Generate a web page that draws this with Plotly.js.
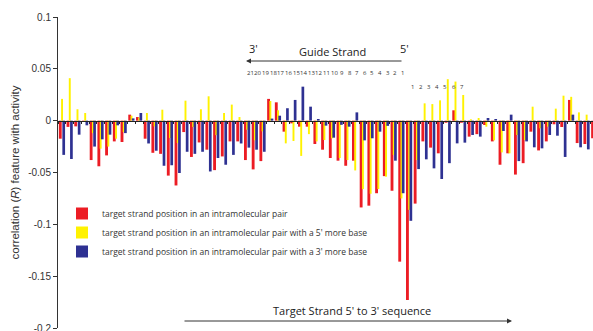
<!DOCTYPE html>
<html>
<head>
<meta charset="utf-8">
<script src="https://cdn.plot.ly/plotly-3.0.1.min.js"></script>
<style>html,body{margin:0;padding:0;background:#fff;}#chart{width:593px;height:331px;}</style>
</head>
<body>
<div id="chart"></div>
<script>
// ---- data ----
var positions = [];
for (var i = 1; i <= 70; i++) positions.push(i);

var redPair = [
 -0.0174,-0.006,-0.0055,-0.001,-0.038,-0.044,-0.0335,-0.020,-0.0206,0.0058,
 0.0035,-0.0174,-0.031,-0.032,-0.053,-0.0625,-0.011,-0.035,-0.021,-0.028,
 -0.0477,-0.0345,-0.020,-0.020,-0.038,-0.047,-0.039,0.021,0.0177,-0.0106,
 -0.0026,-0.0058,-0.0058,-0.0225,-0.028,-0.036,-0.0386,-0.0435,-0.0386,-0.0837,
 -0.082,-0.070,-0.0535,-0.0676,-0.136,-0.173,-0.080,-0.020,-0.026,-0.0315,
 -0.002,0.010,-0.002,-0.0154,-0.013,-0.0042,-0.020,-0.0425,-0.0315,-0.052,
 -0.041,-0.0106,-0.0287,-0.020,-0.0035,-0.0061,0.020,-0.0216,-0.0225,-0.017
];
var yellow5 = [
 0.021,0.041,0.011,0.0074,-0.012,-0.027,-0.025,-0.0174,-0.011,0.0048,
 0.003,0.0074,-0.0055,0.0106,-0.0167,-0.0216,0.0193,-0.006,0.011,0.0235,
 -0.014,0.0074,0.0155,0.0035,-0.0087,-0.019,-0.0103,0.019,0.010,-0.0219,
 -0.0196,-0.034,-0.013,-0.020,-0.0187,-0.017,-0.036,-0.038,-0.048,-0.066,
 -0.0705,-0.066,-0.054,-0.033,-0.075,-0.086,-0.038,0.0167,0.016,0.0196,
 0.040,0.0377,0.0248,0.0013,0.0026,-0.0058,-0.019,-0.0306,-0.0315,-0.0138,
 -0.0187,0.0135,-0.0074,-0.0058,0.0116,0.0241,0.023,0.008,0.0058,0
];
var blue3 = [
 -0.033,-0.037,-0.0135,-0.0045,-0.025,-0.018,-0.0135,-0.0045,-0.012,0.0022,
 0.0074,-0.022,-0.029,-0.0435,-0.043,-0.0505,-0.030,-0.032,-0.030,-0.049,
 -0.036,-0.0425,-0.033,-0.022,-0.026,-0.028,-0.030,0.002,0.0048,0.012,
 0.020,0.0328,0.0135,0.0016,-0.0048,-0.0164,-0.004,-0.0058,0.008,-0.019,
 -0.017,-0.0106,-0.005,-0.0386,-0.070,-0.0966,-0.0467,-0.0373,-0.046,-0.0563,
 -0.041,-0.0219,-0.0212,-0.0138,-0.0154,0.0026,0.0016,-0.010,0.0058,-0.039,
 -0.020,-0.0257,-0.0267,-0.0138,-0.0145,-0.035,0.0058,-0.0257,-0.0277,0
];
var seriesNames = [
 "target strand position in an intramolecular pair",
 "target strand position in an intramolecular pair with a 5' more base",
 "target strand position in an intramolecular pair with a 3' more base"
];
var guideLabels = ["21","20","19","18","17","16","15","14","13","12","11","10","9","8","7","6","5","4","3","2","1"];
var targetLabels = ["1","2","3","4","5","6","7"];
var yTickVals = [0.1,0.05,0,-0.05,-0.1,-0.15,-0.2];
var yTickText = ["0.1","0.05","0","-0.05","-0.1","-0.15","-0.2"];

// ---- layout helpers ----
var L = 58, T = 17, W = 535, H = 311;
function px(x){ return (x - L) / W; }
function py(y){ return (T + H - y) / H; }

var RED = '#ec1c24', YEL = '#fff200', BLU = '#2e3192';
var traces = [
 {type:'bar', x:positions, y:redPair, name:seriesNames[0], marker:{color:RED}, width:0.37, offset:-0.41},
 {type:'bar', x:positions, y:yellow5, name:seriesNames[1], marker:{color:YEL}, width:0.25, offset:-0.12},
 {type:'bar', x:positions, y:blue3, name:seriesNames[2], marker:{color:BLU}, width:0.35, offset:0.045}
];

var ann = [];
var numFont = {family:'Open Sans, sans-serif', size:6, color:'#333'};
guideLabels.forEach(function(t, i){
  ann.push({xref:'x', yref:'paper', x:25.4 + i*0.99, y:py(72.5), text:t, showarrow:false, font:numFont, xanchor:'center', yanchor:'middle'});
});
targetLabels.forEach(function(t, i){
  ann.push({xref:'x', yref:'paper', x:46.4 + i*1.07, y:py(87), text:t, showarrow:false, font:numFont, xanchor:'center', yanchor:'middle'});
});
var lblFont = {family:'Open Sans, sans-serif', size:11, color:'#222'};
function txt(x, y, t){
  return {xref:'paper', yref:'paper', x:px(x), y:py(y), text:t, showarrow:false, font:lblFont, xanchor:'center', yanchor:'middle'};
}
ann.push(txt(253, 49, "3'"));
ann.push(txt(404, 48.5, "5'"));
ann.push(txt(333, 52, "Guide Strand"));
ann.push({xref:'paper', yref:'paper', x:px(246), y:py(61), ax:157, ay:0, text:'', showarrow:true, arrowhead:2, arrowsize:1, arrowwidth:1, arrowcolor:'#333'});
ann.push(txt(352, 310, "Target Strand 5' to 3' sequence"));
ann.push({xref:'paper', yref:'paper', x:px(512), y:py(321), ax:-329, ay:0, text:'', showarrow:true, arrowhead:2, arrowsize:1, arrowwidth:1, arrowcolor:'#333'});

var layout = {
  width:593, height:331,
  margin:{l:L, r:0, t:T, b:3, pad:0},
  paper_bgcolor:'#fff', plot_bgcolor:'#fff',
  barmode:'overlay',
  showlegend:true,
  legend:{x:px(62), y:py(199), xanchor:'left', yanchor:'top', bgcolor:'rgba(0,0,0,0)',
          font:{family:'Open Sans, sans-serif', size:8.5, color:'#333'}, itemclick:false},
  xaxis:{range:[0.48, 69.83], showgrid:false, zeroline:false, showticklabels:false,
         showline:true, linecolor:'#222', linewidth:1.2, anchor:'free', position:2/3,
         ticks:'outside', ticklen:2, tickcolor:'#222', tickwidth:1, tick0:0.5, dtick:1},
  yaxis:{range:[-0.2, 0.1], showgrid:false, zeroline:false, showline:true, linecolor:'#333', linewidth:1,
         ticks:'outside', ticklen:4, tickcolor:'#333', tickvals:yTickVals, ticktext:yTickText,
         ticklabeloverflow:'allow',
         tickfont:{family:'Liberation Sans, Arial, sans-serif', size:10, color:'#333'},
         title:{text:'correlation (<i>R</i>) feature with activity', standoff:6,
                font:{family:'Liberation Sans, Arial, sans-serif', size:11.5, color:'#333'}},
         automargin:false},
  annotations:ann
};
Plotly.newPlot('chart', traces, layout, {staticPlot:true, displayModeBar:false});
</script>
</body>
</html>
